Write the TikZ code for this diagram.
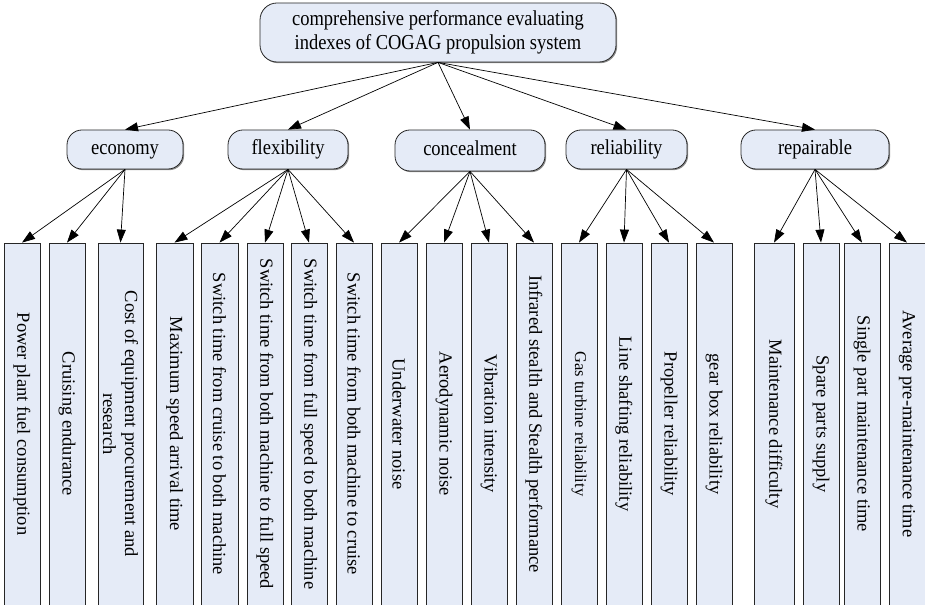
\documentclass[tikz,border=0pt]{standalone}
\usepackage{fontspec}
\setmainfont{Liberation Serif}
\usepackage{xcolor}
\usepackage{graphicx}
\usepackage{tikz}
\usetikzlibrary{arrows.meta, shadows}
\definecolor{boxblue}{RGB}{229, 235, 247}
\newcommand{\talltext}[1]{\scalebox{1}[1.15]{\begin{tabular}{@{}c@{}}#1\end{tabular}}}

\begin{document}
\begin{tikzpicture}[x=1pt, y=1pt,
        rootbox/.style={draw=black!85, fill=boxblue, line width=0.8pt, rounded corners=17pt, align=center,
            minimum width=356pt, minimum height=59pt, font=\fontsize{18.5}{21}\selectfont,
            drop shadow={shadow xshift=1.2pt, shadow yshift=-1.2pt, fill=black!45, opacity=1}},
        midbox/.style={draw=black!85, fill=boxblue, line width=0.8pt, rounded corners=15pt,
            minimum height=39pt, font=\fontsize{18.5}{22}\selectfont,
            drop shadow={shadow xshift=1.2pt, shadow yshift=-1.2pt, fill=black!45, opacity=1}},
        leafbox/.style={draw=black!85, fill=boxblue, line width=0.8pt, rotate=-90, inner sep=0pt, align=center,
            minimum width=362pt, minimum height=36pt, font=\fontsize{18.5}{22}\selectfont,
            drop shadow={shadow xshift=1.2pt, shadow yshift=-1.2pt, fill=black!45, opacity=1}},
        link/.style={line width=0.7pt, -{Triangle[length=13pt, width=9pt]}}]
        \useasboundingbox (0,0) rectangle (925,605);
        \clip (0,0.6) rectangle (925,605);

        % root
        \node[rootbox] (root) at (438,572.5) {\talltext{comprehensive performance evaluating\\indexes of COGAG propulsion system}};

        % criteria
        \node[midbox, minimum width=116pt] (economy) at (125,455.5) {\talltext{economy}};
        \node[midbox, minimum width=120pt] (flexibility) at (288,455.5) {\talltext{flexibility}};
        \node[midbox, minimum width=150pt, minimum height=41pt] (concealment) at (470,454.5) {\talltext{concealment}};
        \node[midbox, minimum width=121pt] (reliability) at (626.5,455.5) {\talltext{reliability}};
        \node[midbox, minimum width=148pt] (repairable) at (815,455.5) {\talltext{repairable}};

        % indexes
        \node[leafbox] (fuel) at (22,181) {Power plant fuel consumption};
        \node[leafbox] (endurance) at (67,181) {Cruising endurance};
        \node[leafbox, minimum height=45pt] (cost) at (120.5,181) {Cost of equipment procurement and\\research};
        \node[leafbox, minimum height=37pt] (maxspeed) at (174.5,181) {Maximum speed arrival time};
        \node[leafbox, minimum height=37pt] (swA) at (219.5,181) {Switch time from cruise to both machine};
        \node[leafbox] (swB) at (265,181) {Switch time from both machine to full speed};
        \node[leafbox] (swC) at (309,181) {Switch time from full speed to both machine};
        \node[leafbox] (swD) at (354,181) {Switch time from both machine to cruise};
        \node[leafbox] (underwater) at (399,181) {Underwater noise};
        \node[leafbox] (aero) at (444,181) {Aerodynamic noise};
        \node[leafbox] (vibration) at (489,181) {Vibration intensity};
        \node[leafbox] (infrared) at (534,181) {Infrared stealth and Stealth performance};
        \node[leafbox, font=\fontsize{16.5}{20}\selectfont] (gasturbine) at (579,181) {Gas turbine reliability};
        \node[leafbox] (shafting) at (624,181) {Line shafting reliability};
        \node[leafbox] (propeller) at (669,181) {Propeller reliability};
        \node[leafbox] (gearbox) at (714,181) {gear box reliability};
        \node[leafbox, minimum height=40pt] (difficulty) at (774,181) {Maintenance difficulty};
        \node[leafbox] (spare) at (821,181) {Spare parts supply};
        \node[leafbox] (single) at (862,181) {Single part maintenance time};
        \node[leafbox] (average) at (907,181) {Average pre-maintenance time};

        % arrows
        \foreach \c in {economy, flexibility, concealment, reliability, repairable}
            \draw[link] (root.south) -- (\c.north);
        \foreach \l in {fuel, endurance, cost}
            \draw[link] (economy.south) -- (\l.west);
        \foreach \l in {maxspeed, swA, swB, swC, swD}
            \draw[link] (flexibility.south) -- (\l.west);
        \foreach \l in {underwater, aero, vibration, infrared}
            \draw[link] (concealment.south) -- (\l.west);
        \foreach \l in {gasturbine, shafting, propeller, gearbox}
            \draw[link] (reliability.south) -- (\l.west);
        \foreach \l in {difficulty, spare, single, average}
            \draw[link] (repairable.south) -- (\l.west);
    \end{tikzpicture}
\end{document}
